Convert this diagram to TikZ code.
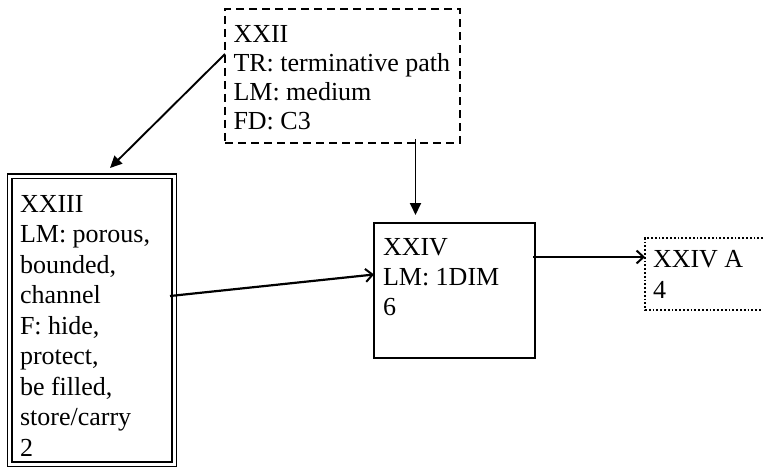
\documentclass[tikz,border=0pt]{standalone}
\usepackage{fontspec}
\setmainfont{Liberation Serif}
\usetikzlibrary{arrows.meta,calc}
\begin{document}
\begin{tikzpicture}[x=1pt,y=-1pt,
 boxbase/.style={rectangle,inner sep=0pt,outer sep=0pt,anchor=north west},
 lbl/.style={anchor=north west,inner sep=0pt,outer sep=0pt,align=left},
 headfill/.style={-{Triangle[length=12pt,width=11pt]},line width=1.9pt},
 headopen/.style={-{Straight Barb[length=7pt,width=13pt,line width=2pt]},line width=2.2pt}]
\useasboundingbox (0,0) rectangle (763,476);
% boxes
\node[boxbase,draw,dash pattern=on 8pt off 5pt,line width=1.8pt,minimum width=235pt,minimum height=134pt] (b22) at (225,9) {};
\node[boxbase,draw,double,double distance=3pt,line width=1.5pt,minimum width=164.5pt,minimum height=288pt] (b23) at (9.5,176) {};
\node[boxbase,draw,line width=1.9pt,minimum width=161pt,minimum height=135pt] (b24) at (374,223) {};
\node[boxbase,minimum width=118pt,minimum height=72pt] (b24a) at (645,238) {};
\draw[dash pattern=on 1.8pt off 2pt,line width=1.8pt] (b24a.north east) -- (b24a.north west) -- (b24a.south west) -- (b24a.south east);
% texts
\node[lbl,font=\fontsize{26}{29}\selectfont] (t22) at (233.5,25) {XXII\\TR: terminative path\\LM: medium\\FD: C3};
\node[lbl,font=\fontsize{26}{30.5}\selectfont] (t23) at (20,195) {XXIII\\LM: porous,\\bounded,\\channel\\F: hide,\\protect,\\be filled,\\store/carry\\2};
\node[lbl,font=\fontsize{26}{30}\selectfont] (t24) at (383,238) {XXIV\\LM: 1DIM\\6};
\node[lbl,font=\fontsize{26}{31}\selectfont] (t24a) at (653,250) {XXIV A\\4};
% connectors
\draw[headfill] ($(b22.north west)+(0,45)$) -- ($(b23.north west)+(100.5,-8)$);
\draw[headfill] ($(b22.south west)+(190.5,-4)$) -- ($(b24.north west)+(41.5,-8)$);
\draw[headopen] ($(b23.north east)+(-4,120)$) -- ($(b24.north west)+(0,51.5)$);
\draw[headopen] ($(b24.north east)+(-2,34)$) -- ($(b24a.north west)+(0,19)$);
\end{tikzpicture}
\end{document}
